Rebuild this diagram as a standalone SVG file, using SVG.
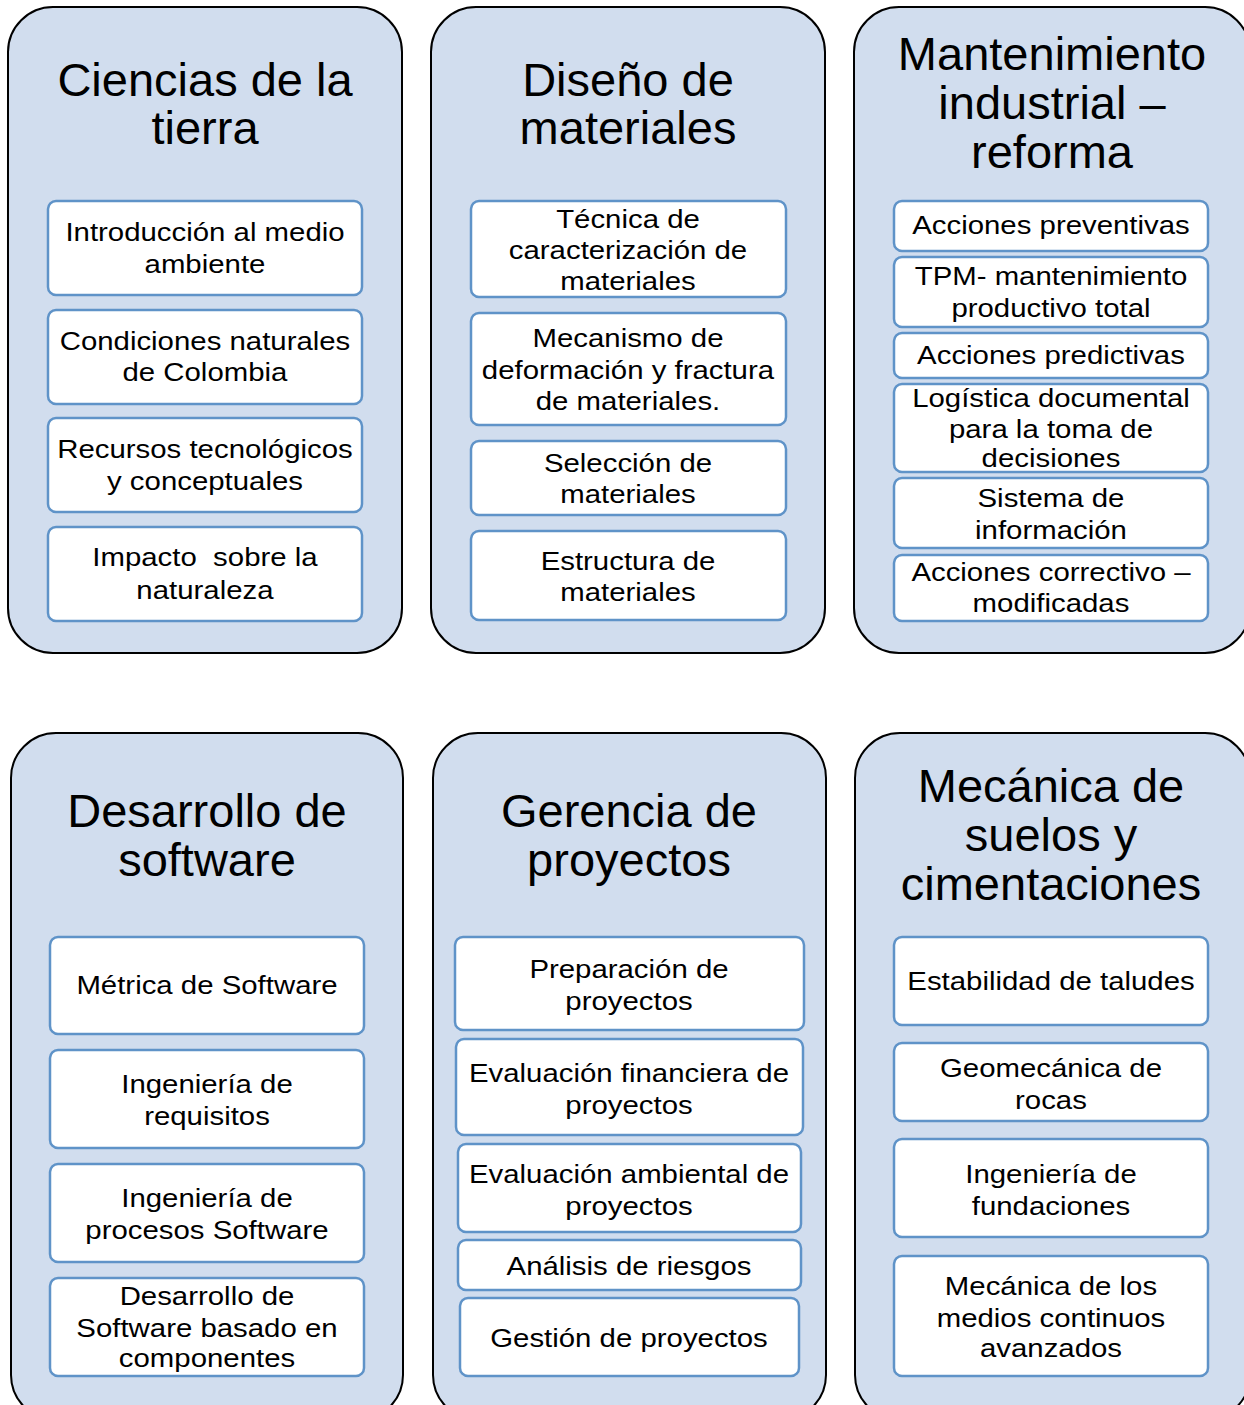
<svg xmlns="http://www.w3.org/2000/svg" width="1244" height="1405" viewBox="0 0 1244 1405">
<style>
.panel{fill:#d1ddee;stroke:#000;stroke-width:2}
.box{fill:#fff;stroke:#5f93c8;stroke-width:2.5}
text{font-family:"Liberation Sans",Arial,sans-serif;fill:#000;text-anchor:middle;white-space:pre}
.t{font-size:47px}
.s{font-size:26px;transform-box:fill-box;transform-origin:center;transform:scaleX(1.13)}
</style>
<rect width="1244" height="1405" fill="#fff"/>
<g id="connectors"></g>

<g id="panel-ciencias">
<rect class="panel" x="8" y="7" width="394" height="646" rx="45"/>
<text class="t" x="205" y="96">Ciencias de la</text>
<text class="t" x="205" y="144">tierra</text>
<g id="n-intro"><rect class="box" x="48" y="201" width="314" height="94" rx="8"/>
<text class="s" x="205" y="241">Introducción al medio</text><text class="s" x="205" y="273">ambiente</text></g>
<g id="n-condiciones"><rect class="box" x="48" y="310" width="314" height="94" rx="8"/>
<text class="s" x="205" y="350">Condiciones naturales</text><text class="s" x="205" y="381">de Colombia</text></g>
<g id="n-recursos"><rect class="box" x="48" y="418" width="314" height="94" rx="8"/>
<text class="s" x="205" y="458">Recursos tecnológicos</text><text class="s" x="205" y="490">y conceptuales</text></g>
<g id="n-impacto"><rect class="box" x="48" y="527" width="314" height="94" rx="8"/>
<text class="s" x="205" y="566">Impacto  sobre la</text><text class="s" x="205" y="599">naturaleza</text></g>
</g>

<g id="panel-diseno">
<rect class="panel" x="431" y="7" width="394" height="646" rx="45"/>
<text class="t" x="628" y="96">Diseño de</text>
<text class="t" x="628" y="144">materiales</text>
<g id="n-tecnica"><rect class="box" x="471" y="201" width="315" height="96" rx="8"/>
<text class="s" x="628" y="228">Técnica de</text><text class="s" x="628" y="259">caracterización de</text><text class="s" x="628" y="290">materiales</text></g>
<g id="n-mecanismo"><rect class="box" x="471" y="313" width="315" height="112" rx="8"/>
<text class="s" x="628" y="347">Mecanismo de</text><text class="s" x="628" y="379">deformación y fractura</text><text class="s" x="628" y="410">de materiales.</text></g>
<g id="n-seleccion"><rect class="box" x="471" y="441" width="315" height="74" rx="8"/>
<text class="s" x="628" y="472">Selección de</text><text class="s" x="628" y="503">materiales</text></g>
<g id="n-estructura"><rect class="box" x="471" y="531" width="315" height="89" rx="8"/>
<text class="s" x="628" y="570">Estructura de</text><text class="s" x="628" y="601">materiales</text></g>
</g>

<g id="panel-mantenimiento">
<rect class="panel" x="854" y="7" width="396" height="646" rx="45"/>
<text class="t" x="1052" y="70">Mantenimiento</text>
<text class="t" x="1052" y="119">industrial –</text>
<text class="t" x="1052" y="168">reforma</text>
<g id="n-preventivas"><rect class="box" x="894" y="201" width="314" height="50" rx="8"/>
<text class="s" x="1051" y="234">Acciones preventivas</text></g>
<g id="n-tpm"><rect class="box" x="894" y="257" width="314" height="70" rx="8"/>
<text class="s" x="1051" y="285">TPM- mantenimiento</text><text class="s" x="1051" y="317">productivo total</text></g>
<g id="n-predictivas"><rect class="box" x="894" y="333" width="314" height="45" rx="8"/>
<text class="s" x="1051" y="364">Acciones predictivas</text></g>
<g id="n-logistica"><rect class="box" x="894" y="384" width="314" height="88" rx="8"/>
<text class="s" x="1051" y="407">Logística documental</text><text class="s" x="1051" y="438">para la toma de</text><text class="s" x="1051" y="467">decisiones</text></g>
<g id="n-sistema"><rect class="box" x="894" y="478" width="314" height="70" rx="8"/>
<text class="s" x="1051" y="507">Sistema de</text><text class="s" x="1051" y="539">información</text></g>
<g id="n-correctivo"><rect class="box" x="894" y="555" width="314" height="66" rx="8"/>
<text class="s" x="1051" y="581">Acciones correctivo –</text><text class="s" x="1051" y="612">modificadas</text></g>
</g>

<g id="panel-software">
<rect class="panel" x="11" y="733" width="392" height="687" rx="45"/>
<text class="t" x="207" y="827">Desarrollo de</text>
<text class="t" x="207" y="876">software</text>
<g id="n-metrica"><rect class="box" x="50" y="937" width="314" height="97" rx="8"/>
<text class="s" x="207" y="994">Métrica de Software</text></g>
<g id="n-requisitos"><rect class="box" x="50" y="1050" width="314" height="98" rx="8"/>
<text class="s" x="207" y="1093">Ingeniería de</text><text class="s" x="207" y="1125">requisitos</text></g>
<g id="n-procesos"><rect class="box" x="50" y="1164" width="314" height="98" rx="8"/>
<text class="s" x="207" y="1207">Ingeniería de</text><text class="s" x="207" y="1239">procesos Software</text></g>
<g id="n-componentes"><rect class="box" x="50" y="1278" width="314" height="98" rx="8"/>
<text class="s" x="207" y="1305">Desarrollo de</text><text class="s" x="207" y="1337">Software basado en</text><text class="s" x="207" y="1367">componentes</text></g>
</g>

<g id="panel-gerencia">
<rect class="panel" x="433" y="733" width="393" height="687" rx="45"/>
<text class="t" x="629" y="827">Gerencia de</text>
<text class="t" x="629" y="876">proyectos</text>
<g id="n-preparacion"><rect class="box" x="455" y="937" width="349" height="93" rx="8"/>
<text class="s" x="629" y="978">Preparación de</text><text class="s" x="629" y="1010">proyectos</text></g>
<g id="n-financiera"><rect class="box" x="456" y="1039" width="347" height="96" rx="8"/>
<text class="s" x="629" y="1082">Evaluación financiera de</text><text class="s" x="629" y="1114">proyectos</text></g>
<g id="n-ambiental"><rect class="box" x="458" y="1144" width="343" height="88" rx="8"/>
<text class="s" x="629" y="1183">Evaluación ambiental de</text><text class="s" x="629" y="1215">proyectos</text></g>
<g id="n-riesgos"><rect class="box" x="458" y="1240" width="343" height="50" rx="8"/>
<text class="s" x="629" y="1275">Análisis de riesgos</text></g>
<g id="n-gestion"><rect class="box" x="460" y="1298" width="339" height="78" rx="8"/>
<text class="s" x="629" y="1347">Gestión de proyectos</text></g>
</g>

<g id="panel-suelos">
<rect class="panel" x="855" y="733" width="395" height="687" rx="45"/>
<text class="t" x="1051" y="802">Mecánica de</text>
<text class="t" x="1051" y="851">suelos y</text>
<text class="t" x="1051" y="900">cimentaciones</text>
<g id="n-taludes"><rect class="box" x="894" y="937" width="314" height="88" rx="8"/>
<text class="s" x="1051" y="990">Estabilidad de taludes</text></g>
<g id="n-geomecanica"><rect class="box" x="894" y="1043" width="314" height="78" rx="8"/>
<text class="s" x="1051" y="1077">Geomecánica de</text><text class="s" x="1051" y="1109">rocas</text></g>
<g id="n-fundaciones"><rect class="box" x="894" y="1139" width="314" height="98" rx="8"/>
<text class="s" x="1051" y="1183">Ingeniería de</text><text class="s" x="1051" y="1215">fundaciones</text></g>
<g id="n-continuos"><rect class="box" x="894" y="1256" width="314" height="120" rx="8"/>
<text class="s" x="1051" y="1295">Mecánica de los</text><text class="s" x="1051" y="1327">medios continuos</text><text class="s" x="1051" y="1357">avanzados</text></g>
</g>
</svg>
